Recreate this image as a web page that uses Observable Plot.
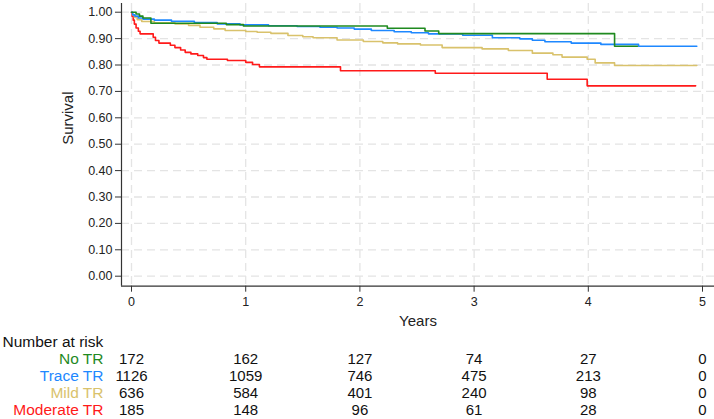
<!DOCTYPE html>
<html>
<head>
<meta charset="utf-8">
<script src="https://cdn.jsdelivr.net/npm/d3@7"></script>
<script src="https://cdn.jsdelivr.net/npm/@observablehq/plot@0.6"></script>
<style>
  html, body { margin: 0; padding: 0; background: #fff; }
  #chart svg { display: block; }
</style>
</head>
<body>
<div id="chart"></div>
<script>
// ---- Data ----
const groups = ["No TR", "Trace TR", "Mild TR", "Moderate TR"];
const colors = ["#1f8a1f", "#1e88ff", "#d9c26c", "#ff1a1a"];

const noTimes = [0, 0.04, 0.07, 0.1, 0.17, 0.83, 0.98, 2.24, 2.57, 2.69, 4.23, 4.43];
const noSurv  = [1.0, 0.993, 0.985, 0.978, 0.958, 0.953, 0.948, 0.939, 0.929, 0.919, 0.871, 0.871];

const traceTimes = [0, 0.01, 0.03, 0.06, 0.1, 0.2, 0.35, 0.55, 0.75, 0.95, 1.2, 1.45, 1.65, 1.8, 1.95, 2.1, 2.3, 2.45, 2.6, 2.9, 3.16, 3.4, 3.51, 3.62, 3.85, 4.11, 4.44, 4.95];
const traceSurv  = [1.0, 0.99, 0.985, 0.978, 0.974, 0.97, 0.966, 0.961, 0.956, 0.952, 0.949, 0.946, 0.943, 0.94, 0.936, 0.931, 0.926, 0.922, 0.918, 0.913, 0.903, 0.899, 0.894, 0.888, 0.883, 0.878, 0.871, 0.871];

const mildTimes = [0, 0.01, 0.025, 0.05, 0.09, 0.2, 0.38, 0.5, 0.6, 0.72, 0.82, 1.0, 1.1, 1.22, 1.37, 1.5, 1.59, 1.8, 2.03, 2.2, 2.33, 2.53, 2.72, 3.07, 3.3, 3.51, 3.69, 3.77, 3.99, 4.06, 4.23, 4.95];
const mildSurv  = [1.0, 0.99, 0.98, 0.972, 0.965, 0.96, 0.956, 0.95, 0.943, 0.937, 0.931, 0.927, 0.924, 0.92, 0.912, 0.907, 0.903, 0.895, 0.889, 0.884, 0.88, 0.876, 0.866, 0.861, 0.855, 0.845, 0.839, 0.83, 0.822, 0.808, 0.798, 0.798];

const modTimes = [0, 0.005, 0.015, 0.025, 0.04, 0.06, 0.075, 0.19, 0.21, 0.24, 0.34, 0.38, 0.43, 0.47, 0.52, 0.58, 0.63, 0.66, 0.84, 1.0, 1.06, 1.12, 1.83, 2.66, 3.64, 3.99, 4.94];
const modSurv  = [1.0, 0.985, 0.97, 0.955, 0.94, 0.928, 0.918, 0.905, 0.893, 0.883, 0.875, 0.866, 0.857, 0.848, 0.842, 0.836, 0.828, 0.822, 0.817, 0.81, 0.802, 0.793, 0.778, 0.769, 0.746, 0.721, 0.721];

const xTicks = [0, 1, 2, 3, 4, 5];
const yTicks = [0, 0.1, 0.2, 0.3, 0.4, 0.5, 0.6, 0.7, 0.8, 0.9, 1.0];

const riskTimes = [0, 1, 2, 3, 4, 5];
const riskNo    = [172, 162, 127, 74, 27, 0];
const riskTrace = [1126, 1059, 746, 475, 213, 0];
const riskMild  = [636, 584, 401, 240, 98, 0];
const riskMod   = [185, 148, 96, 61, 28, 0];

// ---- Build tables ----
const seriesDefs = [
  {g: "Moderate TR", t: modTimes, s: modSurv},
  {g: "Mild TR", t: mildTimes, s: mildSurv},
  {g: "Trace TR", t: traceTimes, s: traceSurv},
  {g: "No TR", t: noTimes, s: noSurv}
];
const curves = seriesDefs.flatMap(d => d.t.map((t, i) => ({group: d.g, time: t, surv: d.s[i]})));

const riskDefs = [
  {g: "No TR", n: riskNo},
  {g: "Trace TR", n: riskTrace},
  {g: "Mild TR", n: riskMild},
  {g: "Moderate TR", n: riskMod}
];
const risk = riskDefs.flatMap(d => d.n.map((n, i) => ({group: d.g, time: riskTimes[i], n})));

const colorScale = {domain: groups, range: colors};
const xDomain = [-0.0876, 5.105];
const yDomain = [-0.0379, 1.033];
const font = "'Liberation Sans', Arial, Helvetica, sans-serif";

const main = Plot.plot({
  width: 714,
  height: 332,
  marginTop: 3,
  marginLeft: 121,
  marginRight: 0,
  marginBottom: 46.3,
  style: {fontFamily: font, fontSize: "12.5px", background: "#fff", color: "#222"},
  x: {domain: xDomain},
  y: {domain: yDomain},
  color: colorScale,
  marks: [
    Plot.gridY(yTicks, {stroke: "#e4e4e4", strokeOpacity: 1, strokeWidth: 1.3, strokeDasharray: "8,5"}),
    Plot.gridX(xTicks, {stroke: "#e4e4e4", strokeOpacity: 1, strokeWidth: 1.3, strokeDasharray: "8,5"}),
    Plot.line(curves, {x: "time", y: "surv", z: "group", stroke: "group", curve: "step-after", strokeWidth: 1.6}),
    Plot.axisY(yTicks, {tickSize: 6, tickPadding: 3, tickFormat: d3.format(".2f"), label: null, stroke: "#333", fill: "#222", fontSize: 12.5}),
    Plot.axisX(xTicks, {tickSize: 6, tickPadding: 5, tickFormat: d3.format("d"), label: null, stroke: "#333", fill: "#222", fontSize: 12.5}),
    Plot.ruleX([xDomain[0]], {stroke: "#333", strokeWidth: 1.2}),
    Plot.ruleY([yDomain[0]], {stroke: "#333", strokeWidth: 1.2}),
    Plot.text(["Survival"], {frameAnchor: "left", dx: -53, rotate: -90, text: d => d, fontSize: 15, fill: "#222"}),
    Plot.text(["Years"], {frameAnchor: "bottom", dy: 40, text: d => d, fontSize: 15, fill: "#222"})
  ]
});

const rowDomain = ["header", ...groups];
const table = Plot.plot({
  width: 714,
  height: 87,
  marginTop: 0,
  marginLeft: 121,
  marginRight: 0,
  marginBottom: 0,
  style: {fontFamily: font, fontSize: "15px", background: "#fff", color: "#111"},
  x: {domain: xDomain, axis: null},
  y: {type: "point", domain: rowDomain, range: [8, 79.6], padding: 0, axis: null},
  color: colorScale,
  marks: [
    Plot.text(["Number at risk"], {frameAnchor: "left", y: () => "header", dx: -119, textAnchor: "start", text: d => d, fill: "#111", fontSize: 15.5}),
    Plot.text(groups, {frameAnchor: "left", y: d => d, dx: -18, textAnchor: "end", text: d => d, fill: d => d, fontSize: 15.5}),
    Plot.text(risk, {x: "time", y: "group", text: d => String(d.n), fill: "#111", fontSize: 15})
  ]
});

const el = document.getElementById("chart");
el.appendChild(main);
el.appendChild(table);
</script>
</body>
</html>
